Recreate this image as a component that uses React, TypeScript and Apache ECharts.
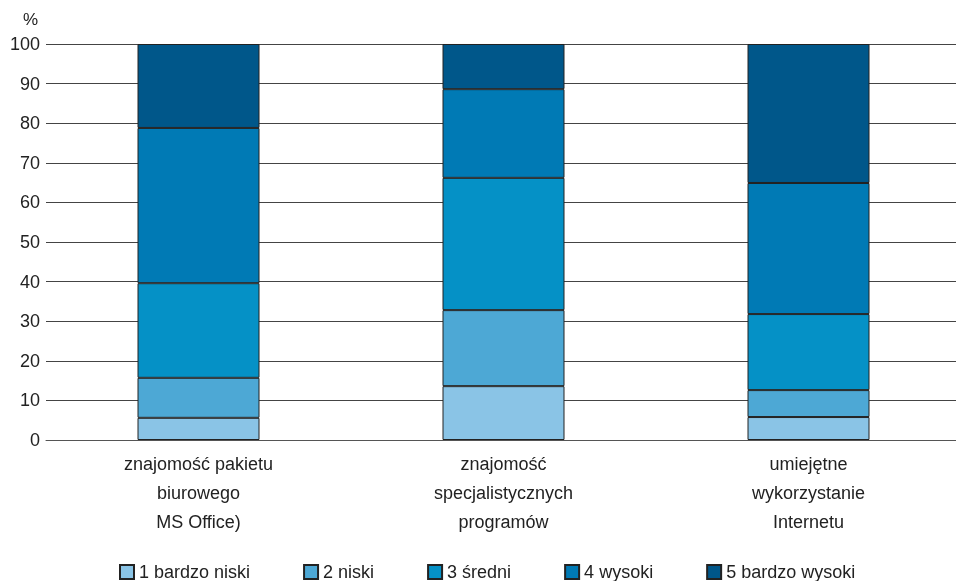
import React, { useEffect, useRef } from "react";
import * as echarts from "echarts";

const categories = [
  "znajomość pakietu\nbiurowego\nMS Office)",
  "znajomość\nspecjalistycznych\nprogramów",
  "umiejętne\nwykorzystanie\nInternetu",
];
const seriesNames = ["1 bardzo niski", "2 niski", "3 średni", "4 wysoki", "5 bardzo wysoki"];
const s1 = [5.6, 13.6, 5.8];
const s2 = [10.1, 19.2, 6.8];
const s3 = [23.9, 33.4, 19.2];
const s4 = [39.2, 22.4, 33.1];
const s5 = [21.2, 11.4, 35.1];
const colors = ["#8AC4E6", "#4DA8D5", "#0591C6", "#007AB5", "#00578A"];

const FONT = "Liberation Sans, Arial, sans-serif";

export default function App() {
  const ref = useRef<HTMLDivElement>(null);
  useEffect(() => {
    if (!ref.current) return;
    const chart = echarts.init(ref.current, null, { renderer: "svg" });
    const data = [s1, s2, s3, s4, s5];
    chart.setOption({
      animation: false,
      textStyle: { fontFamily: FONT },
      grid: {
        left: 46,
        width: 915,
        top: 44,
        bottom: 141,
        containLabel: false,
        outerBoundsMode: "none",
      },
      graphic: [
        {
          type: "text",
          left: 23,
          top: 11,
          style: { text: "%", fontSize: 17, fill: "#222", fontFamily: FONT },
        },
      ],
      legend: {
        left: 119,
        top: 563,
        padding: 0,
        itemWidth: 14,
        itemHeight: 14,
        itemGap: 53,
        icon: "rect",
        data: seriesNames,
        textStyle: { fontSize: 18, color: "#222" },
      },
      xAxis: {
        type: "category",
        data: categories,
        axisLine: { show: true, lineStyle: { color: "#555", width: 1 } },
        axisTick: { show: false },
        axisLabel: { fontSize: 18, color: "#222", lineHeight: 29, margin: 9 },
      },
      yAxis: {
        type: "value",
        min: 0,
        max: 100,
        interval: 10,
        axisLine: { show: false },
        axisTick: { show: false },
        axisLabel: { fontSize: 18, color: "#222", margin: 6 },
        splitLine: { lineStyle: { color: "#444", width: 1 } },
      },
      series: seriesNames.map((name, i) => ({
        name,
        type: "bar",
        stack: "total",
        barWidth: 122,
        data: data[i],
        itemStyle: { color: colors[i], borderColor: "#222", borderWidth: 1 },
      })),
    });
    return () => chart.dispose();
  }, []);
  return (
    <div
      ref={ref}
      style={{ position: "fixed", left: 0, top: 0, width: 956, height: 581 }}
    />
  );
}
